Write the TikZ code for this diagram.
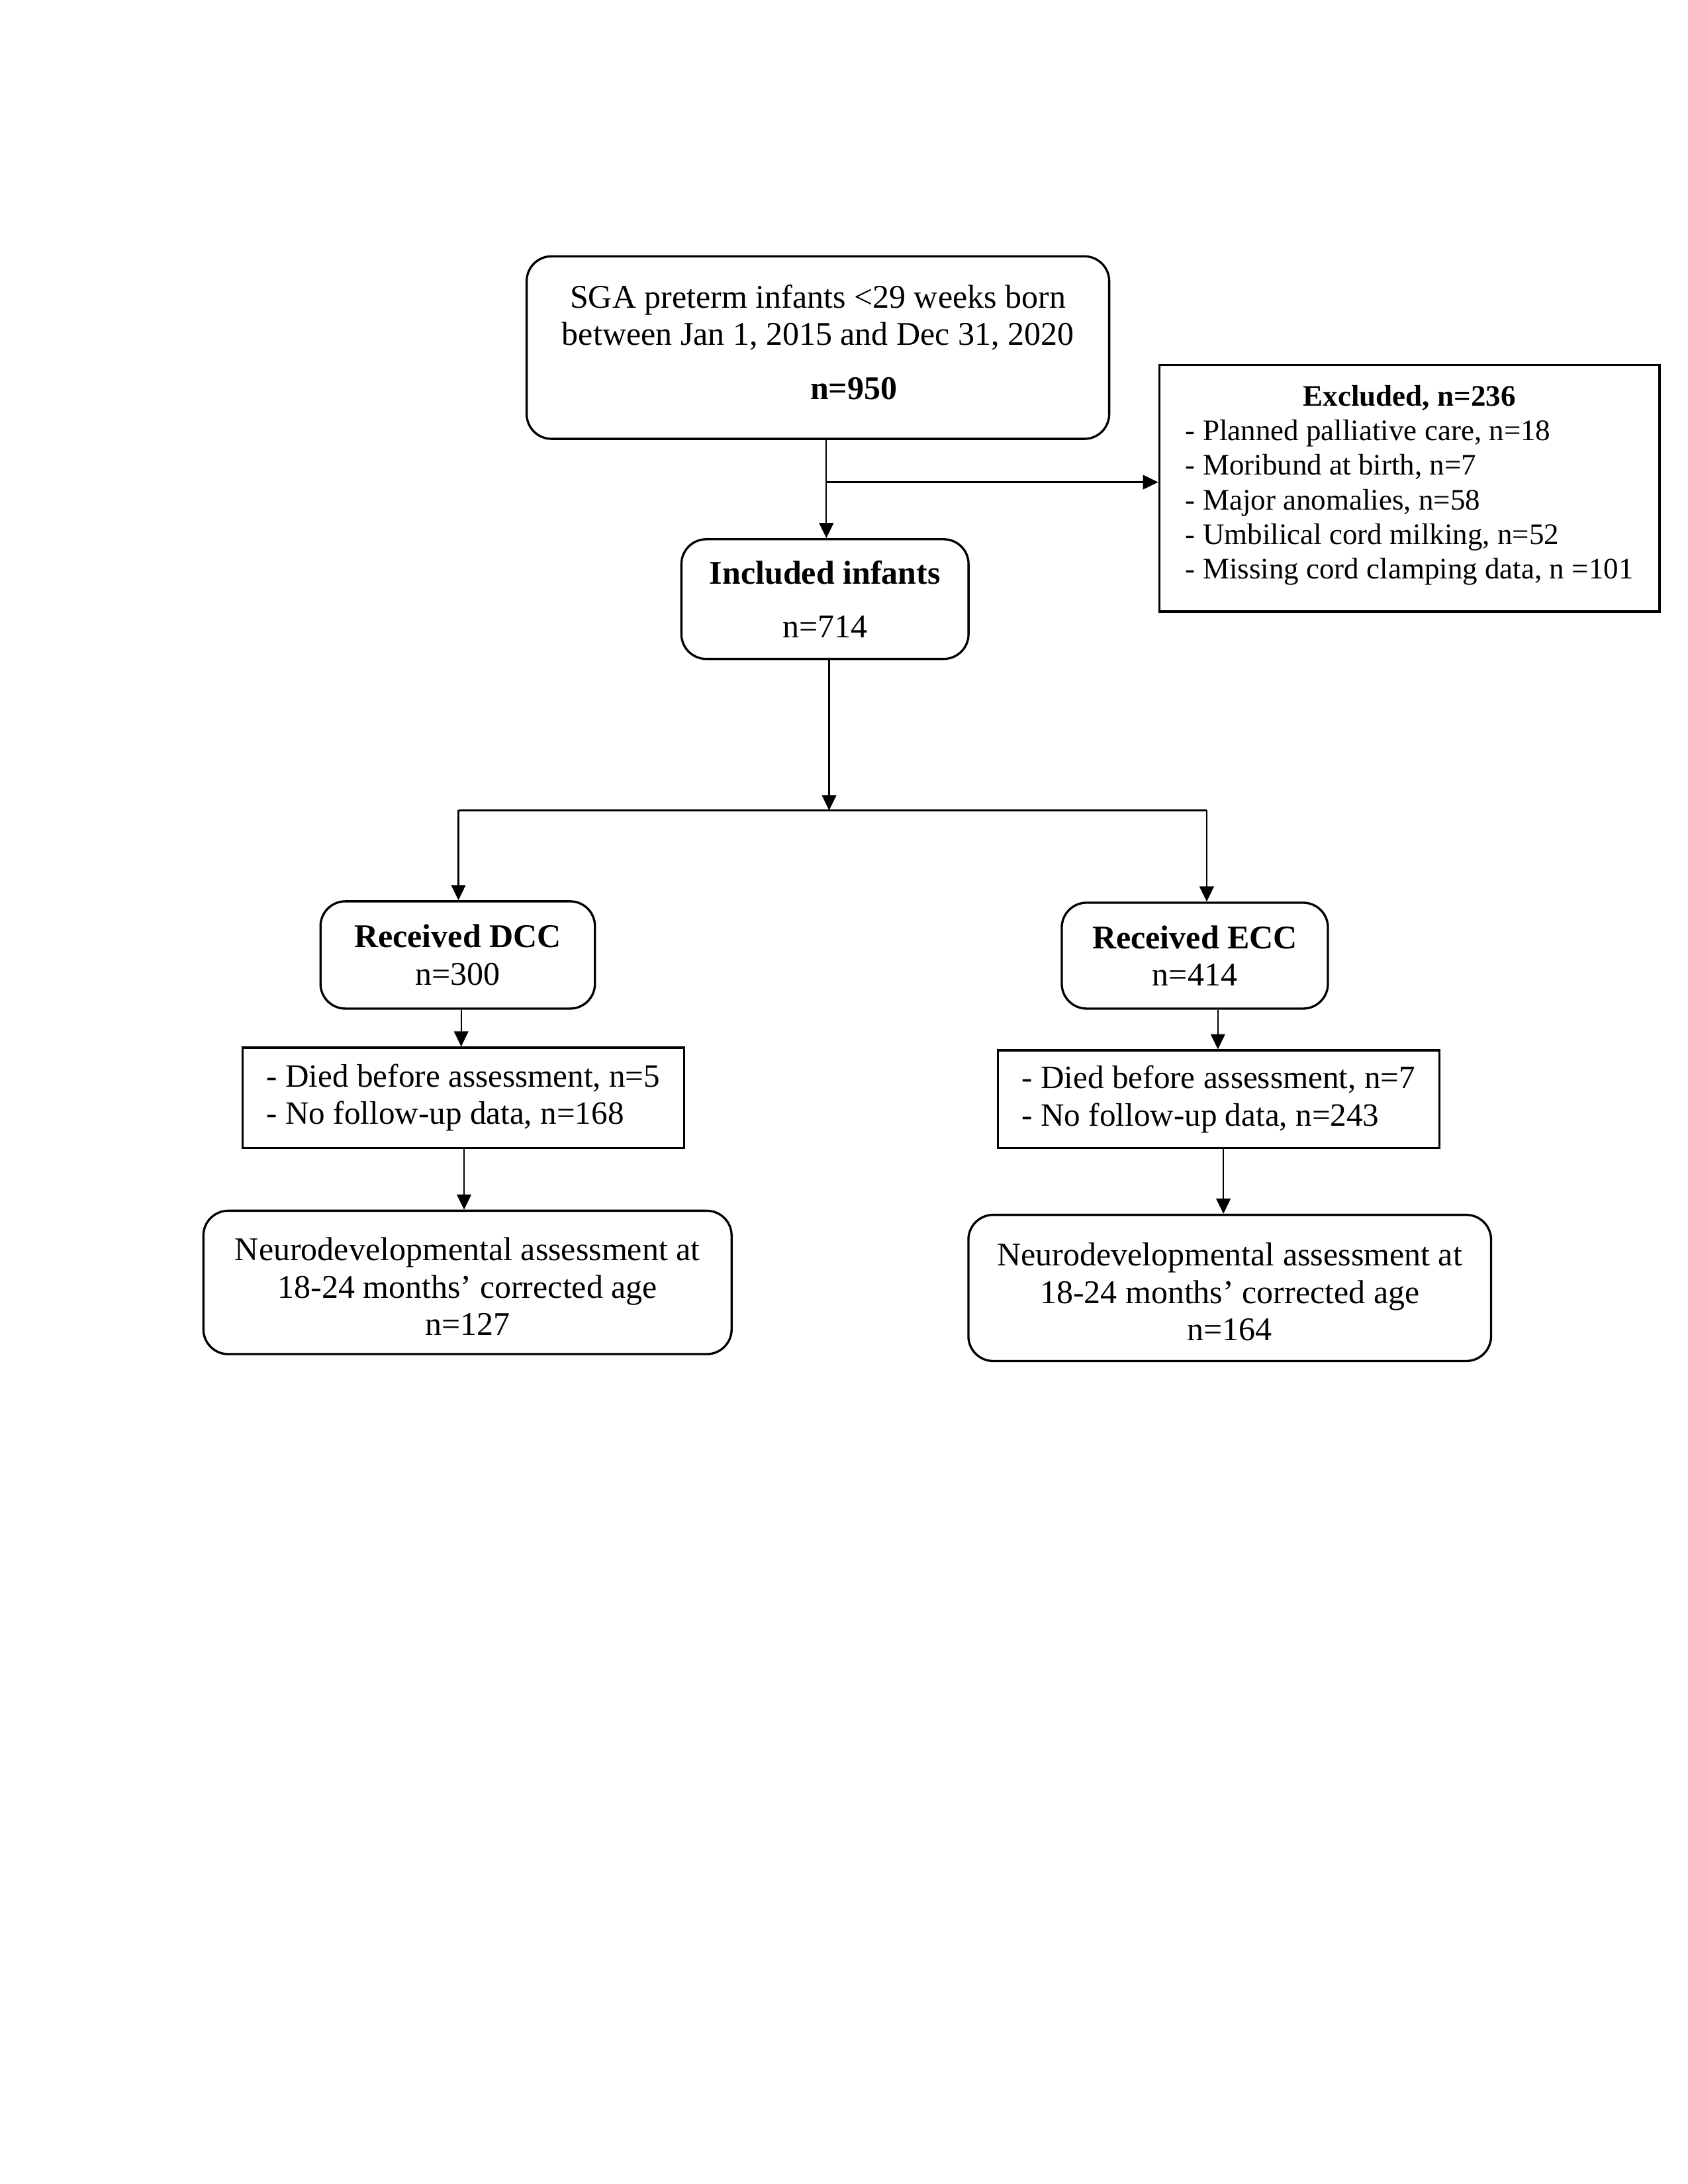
\documentclass[tikz,border=0pt]{standalone}
\usepackage{fontspec}
\setmainfont{Liberation Serif}
\usetikzlibrary{arrows.meta,calc}
\begin{document}
\begin{tikzpicture}[x=0.5pt,y=-0.5pt,
  rbox/.style={draw,line width=0.8pt,rounded corners=9pt,align=center,inner sep=0pt,font=\fontsize{12}{13.5}\selectfont},
  sbox/.style={draw,line width=0.8pt,align=left,inner sep=0pt},
  arr/.style={line width=0.55pt,-{Triangle[length=5.5pt,width=5.2pt]}},
  ln/.style={line width=0.55pt}]
\useasboundingbox (0,0) rectangle (1224,1584);
\node[rbox,minimum width=211.2pt,minimum height=66.2pt] (top) at (593.1,252.1)
  {SGA preterm infants <29 weeks born\\between Jan 1, 2015 and Dec 31, 2020\\[6pt]\hspace*{26pt}\textbf{n=950}\rule[-4pt]{0pt}{0pt}};
\node[rbox,minimum width=104.1pt,minimum height=43.4pt] (incl) at (598.2,434.5)
  {\textbf{Included infants}\\[6pt]n=714};
\node[sbox,minimum width=181.4pt,minimum height=89.4pt,font=\fontsize{10.8}{12.5}\selectfont] (excl) at (1022.0,354.1)
  {\begin{tabular}{@{}l@{}}\multicolumn{1}{@{}c@{}}{\textbf{Excluded, n=236}}\\- Planned palliative care, n=18\\- Moribund at birth, n=7\\- Major anomalies, n=58\\- Umbilical cord milking, n=52\\- Missing cord clamping data, n =101\\[2pt]\end{tabular}};
\node[rbox,minimum width=99.5pt,minimum height=38.9pt] (dcc) at (331.9,692.6)
  {\textbf{Received DCC}\\n=300};
\node[sbox,minimum width=160.1pt,minimum height=36.4pt,font=\fontsize{11.8}{13.5}\selectfont] (dccx) at (336.0,796.2)
  {- Died before assessment, n=5\\- No follow-up data, n=168};
\node[rbox,minimum width=191.5pt,minimum height=52.0pt] (dccn) at (339.0,930.1)
  {\rule{0pt}{11.2pt}Neurodevelopmental assessment at\\18-24 months’ corrected age\\n=127};
\node[rbox,minimum width=96.5pt,minimum height=38.4pt] (ecc) at (866.4,693.1)
  {\textbf{Received ECC}\\n=414};
\node[sbox,minimum width=160.1pt,minimum height=35.4pt,font=\fontsize{11.8}{13.5}\selectfont] (eccx) at (883.6,797.2)
  {- Died before assessment, n=7\\- No follow-up data, n=243};
\node[rbox,minimum width=189.5pt,minimum height=53.0pt] (eccn) at (891.7,934.1)
  {\rule{0pt}{11.2pt}Neurodevelopmental assessment at\\18-24 months’ corrected age\\n=164};
% connectors
\draw[arr] ([xshift=3.05pt]top.south) -- ([xshift=3.05pt]top.south |- incl.north);
\coordinate (br) at ($([xshift=3.05pt]top.south)!0.43!([xshift=3.05pt]top.south |- incl.north)$);
\draw[arr] (br) -- (br -| excl.west);
\coordinate (split) at ($([xshift=1.5pt]incl.south)+(0,109)$);
\draw[arr] ([xshift=1.5pt]incl.south) -- (split);
\draw[ln] ([xshift=0.25pt]dcc.north |- split) -- ([xshift=4.3pt]ecc.north |- split);
\draw[arr] ([xshift=0.25pt]dcc.north |- split) -- ([xshift=0.25pt]dcc.north);
\draw[arr] ([xshift=4.3pt]ecc.north |- split) -- ([xshift=4.3pt]ecc.north);
\draw[arr] ([xshift=1.25pt]dcc.south) -- ([xshift=1.25pt]dcc.south |- dccx.north);
\draw[arr] ([xshift=0.25pt]dccx.south) -- ([xshift=0.25pt]dccx.south |- dccn.north);
\draw[arr] ([xshift=8.35pt]ecc.south) -- ([xshift=8.35pt]ecc.south |- eccx.north);
\draw[arr] ([xshift=1.75pt]eccx.south) -- ([xshift=1.75pt]eccx.south |- eccn.north);
\end{tikzpicture}
\end{document}
